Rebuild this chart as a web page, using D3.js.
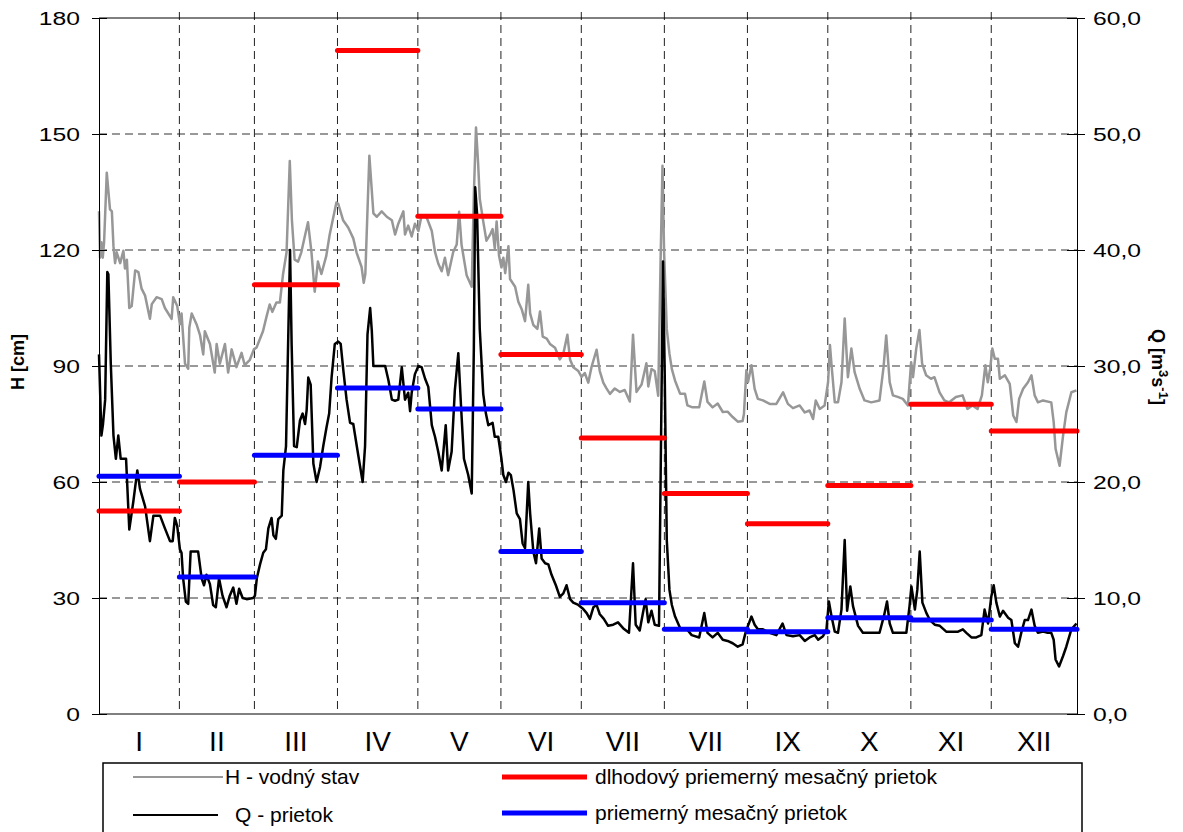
<!DOCTYPE html>
<html>
<head>
<meta charset="utf-8">
<script src="https://cdn.jsdelivr.net/npm/d3@7"></script>
<style>
  body { margin: 0; background: #fff; }
  svg { display: block; font-family: "Liberation Sans", Arial, sans-serif; }
</style>
</head>
<body>
<div class="chart"></div>
<script>
// H - water level [cm], [day of year, value]
var hSeries = [
  [1,130],[1.4,118],[1.9,122],[2.4,118],[2.9,122],[3.9,140],[5.1,130.5],[5.8,130],[6.4,121],[7,116.6],
  [7.6,119.4],[8.9,116.6],[10.1,119.8],[10.7,115.2],[11.4,117.5],[12.3,105],[13.2,105.5],[14.5,114.7],
  [15.7,114.3],[16.9,110],[18.2,108.2],[20,102.2],[20.7,106],[22.5,107.8],[24.4,107.3],[25.6,105],
  [28.1,102.2],[28.7,107.8],[30.2,105.5],[31.2,100.8],
  [31.8,103.6],[33.1,90.6],[34.3,89.3],[34.7,99.9],[35.6,103.6],[37.4,100.8],[38.7,98],[39.9,93],
  [40.5,99],[42.4,95.7],[44.2,88.3],[44.9,95.7],[46.1,90.6],[48,95.7],[49.2,88.3],[50.5,94.3],
  [52.3,89.7],[54.2,93.4],[55.4,90.2],[57.3,91.6],[58.8,94.3],
  [59.8,94.8],[62.2,99],[63.5,102.7],[64.7,105.9],[65.7,104],[67.2,106.4],[68.5,106.4],[69.7,113.8],
  [71,119.4],[72.2,143],[73,127.7],[74,117.5],[75.3,117],[76.5,119.4],[77.8,123.5],[79,127.2],
  [80.3,119.4],[81.5,109.2],[82.7,117],[84,113.8],[85.8,118.4],[87.1,124],[89.6,132.3],
  [90.3,131.9],[92.1,127.7],[94,125.8],[95.9,123],[97.1,119.4],[99,115.6],[99.8,111.5],[100.4,113.8],
  [101.9,144.4],[103.4,129.5],[104.7,128.6],[106.5,130],[108.4,128.6],[110.3,127.7],[111.5,124],
  [112.7,126.8],[114.6,130],[115.2,124],[116.4,126.3],[117.7,123.5],[118.9,126.8],[120.2,124.9],
  [121.4,128.9],[123.3,128.4],[125.2,124.9],[126.4,119.5],[127.6,116.5],[128.9,114.5],[130.1,118],
  [131.3,113.5],[133.2,119.5],[134.5,121.4],[135.4,129.9],[136.3,121.4],[138.2,113.5],[140.1,110.5],
  [140.9,134.3],[141.7,151.7],[142.5,142.3],[143.1,133.3],[144.4,127.4],[145.6,122.4],[146.9,123.9],
  [147.9,125.4],[148.7,120.4],[149.4,127.4],[150.3,118.5],[151.2,115.5],
  [151.9,118],[152.6,114],[153.8,121],[154.4,112.5],[156.3,110.5],[157.5,106.6],[158.8,104.6],
  [160,101.6],[161.2,111],[161.9,103.6],[163.1,100.6],[164.6,99.6],[165.6,104.1],[166.6,97.6],
  [168.1,97.1],[169.3,95.7],[171.2,94.7],[173,91.7],[174.3,93.2],[175.8,98.1],[176.8,91.7],[178,89.7],
  [179.9,88.7],[181.1,87.2],
  [182.3,88.2],[183.6,85.7],[184.8,89.7],[186.7,94.2],[187.9,88.7],[189.2,85.7],[190.4,84.2],
  [191.7,82.8],[193.5,84.2],[195.4,83.3],[197.2,83.8],[199.1,80.8],[200.3,98.1],[201.6,83.3],
  [203.5,85.2],[205.3,90.7],[206,84.7],[207.2,89.2],[208.4,88.7],[209.7,82.3],[210.6,117.5],
  [211.3,141.8],[211.9,119.5],
  [212.9,99.6],[213.9,93.2],[214.8,89.2],[216,86.2],[217.9,82.8],[219.7,82.8],[220.6,79.8],[222.5,79.3],
  [225,79.3],[226.9,86],[228.1,80.7],[230,79.3],[231.9,80.3],[233.8,78.1],[235.6,78.2],[237.5,76.8],
  [239.4,75.6],[241.2,75.8],[241.7,77.6],[242.6,88.9],[243.2,85.8],
  [244.5,90.2],[245.7,84.1],[246.9,81.5],[248.8,81.1],[251.3,80.2],[253.8,80.2],[256.3,83.2],
  [258.1,80.2],[260,79.1],[262.5,79.8],[264.4,78],[266.2,78.5],[267.5,76.3],[268.5,81.1],[270,78.9],
  [271.8,79.8],[273.1,85.8],
  [273.8,95.4],[274.4,90.2],[275.6,80.6],[276.8,80.6],[278.1,85.8],[279.3,102.3],[280.5,87.1],
  [281.8,94.5],[283,88.4],[284.9,84.1],[286.7,81.1],[289.2,80.6],[292.3,81.1],[293.8,89.7],[294.8,97.9],
  [296.1,85.8],[297.3,82.4],[299.1,82],[301,81.5],[302.9,79.8],[304.1,91],
  [304.8,87.1],[306,94.5],[307.2,99.3],[308.2,90.6],[309.7,87.6],[311.5,86.7],[312.8,87.1],[314.7,83.2],
  [316.5,81.1],[318.3,80.6],[320.8,82],[323.3,82.4],[325.1,78.9],[327,79.8],[328.9,78.9],[330.5,82.4],
  [331.8,90.2],[332.7,85.8],[333.6,89.3],
  [334.4,94.5],[335.3,91.9],[336.5,91.9],[337.2,86.7],[339.1,87.6],[340.9,85.4],[342.2,77.2],
  [343.4,75.5],[344.4,81.5],[345.9,84.1],[347.7,85.8],[349,87.6],[350.2,82.4],[351.4,80.6],[353.3,81.1],
  [356.4,80.6],[357.3,75.5],[358,68.6],[359.5,64.2],[360.8,72],[362,78],[363.9,83.2],[365.8,83.7]
];

// Q - discharge [m3/s], [day of year, value]
var qSeries = [
  [1,31],[1.9,24],[2.5,25],[3.3,27.1],[4.1,38.1],[4.5,37.9],[5.4,30.2],[6.4,24],[7.3,22],[8.2,24],
  [9.1,22],[11.1,22],[12.3,15.9],[13.8,18.3],[15.3,21],[16.3,19.4],[18.2,17.9],[20,14.9],[21.3,17.1],
  [23.8,17.1],[25.6,16],[27.5,14.9],[28.5,14.9],[29.3,16.9],[30.2,16.2],[31.2,14.2],
  [31.8,13.9],[32.4,11.7],[33.4,9.7],[34.3,9.5],[35.2,14],[36.2,14],[38,14],[39.3,11.7],[40.2,11.1],
  [41.1,12],[42.4,11.2],[43.6,9.4],[44.6,9.2],[45.8,11.7],[47.1,10.2],[48.6,9.2],[49.8,10.2],
  [51.1,10.9],[52.3,9.5],[53.3,10.8],[54.6,10],[56.1,9.9],[58.5,10],
  [59.2,10.2],[59.9,11.7],[61.1,12.9],[62.3,13.9],[63.3,14.2],[64.2,16],[65.4,16.9],[66.1,15.4],
  [67,15.1],[67.9,16.8],[69.2,17.1],[69.8,21],[70.8,23.1],[71.7,33.3],[72.3,40],[72.9,31.8],
  [73.8,23.1],[74.8,23],[76,25.3],[77,25.9],[77.9,25],[78.5,26.2],[79.1,29],[80,28.4],[81,21.6],
  [82.2,20],[83.5,21.3],[84.7,23.1],[85.9,24.7],[86.9,25.9],[87.8,29],[89,31.9],[90.3,32.1],[91.2,31.9],
  [92.2,29.6],[93.4,27.1],[94.7,25.1],[95.9,25],[97.2,23.1],[98.4,21.4],[99.4,20],[100.3,23.1],
  [101.2,32.7],[102.2,35],[102.8,33.1],[103.4,30],[104.7,30],[107.8,30],[109,28.8],[110.3,27.1],
  [111.5,27],[112.7,27.1],[114,29.9],[115.2,27.1],[116.4,27.7],[117.1,26.1],[117.7,27.7],[118.9,29.3],
  [120.2,30],
  [121.4,29.9],[122.7,28.9],[123.9,28.2],[125.2,24.9],[126.4,23.9],[127.6,22.6],[128.9,21],[129.8,23.3],
  [130.4,24.9],[131.3,21],[132.6,22.6],[133.8,27.9],[135.1,31.1],[136.1,26.6],[137.2,22],[138.8,20.6],
  [140.1,19],[140.9,31.6],[141.4,45.4],[142.1,43.1],[143.1,33.2],[144.4,27.6],[145.4,25.9],[146.3,24.9],
  [147.9,25.1],[148.7,23.9],[150,23.9],[151.2,22],
  [151.9,20.6],[152.9,20],[153.8,20.8],[154.7,20.6],[155.7,19.3],[156.9,17.3],[158.1,16.8],[159.1,14.7],
  [160,14.3],[161.2,20],[161.9,17.3],[163.1,14],[164.1,13],[165.3,16],[166.2,13.4],[167.5,13],
  [168.7,12.9],[169.9,12],[171.5,11.1],[173,10.1],[174.3,10.4],[175.5,11.1],[176.8,9.9],[178,9.6],
  [179.9,9.4],[181.5,9.1],
  [183,8.7],[184.2,8.2],[185.5,9.2],[186.7,9.4],[187.9,8.6],[189.4,8.2],[191,7.6],[192.9,7.7],
  [194.7,7.9],[196.6,7.4],[198.8,7],[200.3,13],[201.3,7.7],[202.8,7.2],[204,8.7],[205,9.9],[206,7.9],
  [207.2,8.9],[208.4,7.7],[210,7.6],[210.9,26.6],[211.5,39],[212.1,29.9],
  [212.9,15],[213.9,10.7],[214.8,9.4],[216,8.4],[217.9,7.4],[220.4,7.3],[222.2,6.8],[225,6.6],
  [226.9,8.7],[228.1,7],[230,6.6],[231.9,7],[233.8,6.4],[235.6,6.3],[237.5,6.1],[239.4,5.8],
  [241.2,6],[242.4,7.1],
  [244.5,8.4],[245.7,7.7],[246.9,7.3],[248.8,7.3],[251.3,7],[253.8,6.8],[256.1,7.8],[257.6,6.8],
  [260,6.7],[262.5,6.8],[264.4,6.3],[266.2,6.6],[268.1,6.8],[269.4,6.4],[271.2,6.7],[272.5,7.3],
  [273.4,9.7],
  [274.4,8.4],[275.6,7.1],[276.8,7],[278.1,9],[279.3,15],[280.2,8.9],[281.4,11],[282.4,9.3],
  [284.3,7.6],[286.1,7],[288.6,7],[292.3,7],[294,8.5],[295.1,9.7],[296.1,7.8],[297.3,7],[299.8,7],
  [302.3,7],[303.5,9.3],[304.2,11],
  [304.8,10.1],[305.5,9],[306.4,10.7],[307.3,14],[308.3,9.6],[309.8,8.7],[311.1,8.1],[312.9,7.7],
  [314.8,7.6],[317.2,7.1],[319.7,7.1],[321.6,7.1],[323.4,7.3],[324.7,7],[326.6,6.6],[328.4,6.6],
  [330.3,6.8],[331.5,9],[332.8,7.8],[334,10.1],
  [334.9,11.1],[335.9,9.6],[337.2,8.4],[338.4,8.9],[340.3,8.3],[341.5,8.1],[342.8,6.1],[344,5.8],
  [345.3,7.1],[346.5,8.1],[347.7,8.1],[349,9],[350.2,7.6],[351.4,7],[353.3,7.1],[355.1,7],[356.4,7],
  [357.3,6.4],[358,4.7],[359.3,4.1],[360.8,5],[362,5.8],[363.9,7.3],[365.8,7.8]
];

// month boundaries (day of year) and labels
var monthBounds = [1, 31, 59, 90, 120, 151, 181, 212, 243, 273, 304, 334, 366];
var monthLabels = ["I", "II", "III", "IV", "V", "VI", "VII", "VII", "IX", "X", "XI", "XII"];

// long-term average monthly discharge (red) and average monthly discharge (blue)
var longTermQ = [17.5, 20.0, 37.0, 57.2, 42.9, 31.0, 23.8, 19.0, 16.4, 19.7, 26.7, 24.4];
var monthQ = [20.5, 11.8, 22.3, 28.1, 26.3, 14.0, 9.6, 7.3, 7.1, 8.3, 8.1, 7.3];

var hTicks = [0, 30, 60, 90, 120, 150, 180];
var qTicks = [0, 10, 20, 30, 40, 50, 60];
var qTickLabels = ["0,0", "10,0", "20,0", "30,0", "40,0", "50,0", "60,0"];

var svgWidth = 1183;
var svgHeight = 832;

var margin = {
  top: 18,
  right: 106,
  bottom: 118,
  left: 99
};

var width = svgWidth - margin.left - margin.right;
var height = svgHeight - margin.top - margin.bottom;

var svg = d3.select(".chart")
  .append("svg")
  .attr("width", svgWidth)
  .attr("height", svgHeight);

var chartGroup = svg.append("g")
  .attr("transform", `translate(${margin.left}, ${margin.top})`);

// scales
var xScale = d3.scaleLinear().domain([1, 366]).range([0, width]);
var yH = d3.scaleLinear().domain([0, 180]).range([height, 0]);
var yQ = d3.scaleLinear().domain([0, 60]).range([height, 0]);

// horizontal dashed grid
chartGroup.selectAll(".hgrid")
  .data(hTicks.slice(1, -1))
  .enter()
  .append("line")
  .attr("x1", 0)
  .attr("x2", width)
  .attr("y1", d => yH(d))
  .attr("y2", d => yH(d))
  .attr("stroke", "#333")
  .attr("stroke-width", 1)
  .attr("stroke-dasharray", "8,5");

// vertical dashed month lines
chartGroup.selectAll(".vgrid")
  .data(monthBounds.slice(1, -1))
  .enter()
  .append("line")
  .attr("x1", d => xScale(d))
  .attr("x2", d => xScale(d))
  .attr("y1", -6)
  .attr("y2", height)
  .attr("stroke", "#222")
  .attr("stroke-width", 1)
  .attr("stroke-dasharray", "8,5");

// top border
chartGroup.append("line")
  .attr("x1", 0).attr("x2", width)
  .attr("y1", 0).attr("y2", 0)
  .attr("stroke", "#000");

// bottom axis line
chartGroup.append("line")
  .attr("x1", 0).attr("x2", width)
  .attr("y1", height).attr("y2", height)
  .attr("stroke", "#000");

// lines
var hLine = d3.line().x(d => xScale(d[0])).y(d => yH(d[1]));
var qLine = d3.line().x(d => xScale(d[0])).y(d => yQ(d[1]));

chartGroup.append("path")
  .datum(hSeries)
  .attr("d", hLine)
  .attr("fill", "none")
  .attr("stroke", "#979797")
  .attr("stroke-width", 2.5)
  .attr("stroke-linejoin", "round");

chartGroup.append("path")
  .datum(qSeries)
  .attr("d", qLine)
  .attr("fill", "none")
  .attr("stroke", "#000")
  .attr("stroke-width", 2.5)
  .attr("stroke-linejoin", "round");

// monthly averages
function monthSegments(values, color) {
  chartGroup.append("g").selectAll("line")
    .data(values)
    .enter()
    .append("line")
    .attr("x1", (d, i) => xScale(monthBounds[i]))
    .attr("x2", (d, i) => xScale(monthBounds[i + 1]))
    .attr("y1", d => yQ(d))
    .attr("y2", d => yQ(d))
    .attr("stroke", color)
    .attr("stroke-width", 5)
    .attr("stroke-linecap", "round");
}
monthSegments(longTermQ, "#ff0000");
monthSegments(monthQ, "#0000ff");

// axes
var leftAxis = d3.axisLeft(yH).tickValues(hTicks).tickSizeOuter(0);
var rightAxis = d3.axisRight(yQ).tickValues(qTicks).tickSizeOuter(0)
  .tickFormat((d, i) => qTickLabels[i]);

var gLeft = chartGroup.append("g").call(leftAxis);
gLeft.selectAll(".tick line").attr("x1", -7).attr("x2", 8).attr("stroke", "#000");
gLeft.selectAll("text")
  .attr("x", -19 / 1.3)
  .attr("transform", "scale(1.3,1)")
  .attr("font-size", "19px")
  .attr("font-family", "Liberation Sans, Arial, sans-serif")
  .attr("fill", "#000");

var gRight = chartGroup.append("g")
  .attr("transform", `translate(${width}, 0)`)
  .call(rightAxis);
gRight.selectAll(".tick line").attr("x1", -10).attr("x2", 8).attr("stroke", "#000");
gRight.selectAll("text")
  .attr("x", 16 / 1.3)
  .attr("transform", "scale(1.3,1)")
  .attr("font-size", "19px")
  .attr("font-family", "Liberation Sans, Arial, sans-serif")
  .attr("fill", "#000");

chartGroup.selectAll(".domain").attr("stroke", "#000");

// month labels
chartGroup.selectAll(".mlabel")
  .data(monthLabels)
  .enter()
  .append("text")
  .attr("x", (d, i) => (xScale(monthBounds[i]) + xScale(monthBounds[i + 1])) / 2)
  .attr("y", height + 37)
  .attr("text-anchor", "middle")
  .attr("font-size", "28px")
  .attr("fill", "#000")
  .text(d => d);

// axis titles
svg.append("text")
  .attr("transform", "translate(24, 362) rotate(-90)")
  .attr("text-anchor", "middle")
  .attr("font-size", "18px")
  .attr("font-weight", "bold")
  .text("H [cm]");

var qTitle = svg.append("text")
  .attr("transform", "translate(1152, 367) rotate(90)")
  .attr("text-anchor", "middle")
  .attr("font-size", "18px")
  .attr("font-weight", "bold");
qTitle.append("tspan").text("Q [m");
qTitle.append("tspan").attr("font-size", "13px").attr("dy", -7).text("3");
qTitle.append("tspan").attr("dy", 7).text("s");
qTitle.append("tspan").attr("font-size", "13px").attr("dy", -7).text("-1");
qTitle.append("tspan").attr("dy", 7).text("]");

// legend
var legend = svg.append("g");
legend.append("rect")
  .attr("x", 103).attr("y", 763)
  .attr("width", 979).attr("height", 80)
  .attr("fill", "none")
  .attr("stroke", "#000")
  .attr("stroke-width", 1.5);

var legendItems = [
  { label: "H - vodný stav", color: "#979797", w: 2, x1: 133, x2: 223, y: 777, tx: 225 },
  { label: "Q - prietok", color: "#000", w: 2, x1: 133, x2: 218, y: 815, tx: 235 },
  { label: "dlhodový priemerný mesačný prietok", color: "#ff0000", w: 5, x1: 502, x2: 587, y: 777, tx: 595 },
  { label: "priemerný mesačný prietok", color: "#0000ff", w: 5, x1: 502, x2: 587, y: 813, tx: 595 }
];

legendItems.forEach(function(item) {
  legend.append("line")
    .attr("x1", item.x1).attr("x2", item.x2)
    .attr("y1", item.y).attr("y2", item.y)
    .attr("stroke", item.color)
    .attr("stroke-width", item.w);
  legend.append("text")
    .attr("x", item.tx)
    .attr("y", item.y + 7)
    .attr("font-size", "21px")
    .attr("fill", "#000")
    .text(item.label);
});
</script>
</body>
</html>
